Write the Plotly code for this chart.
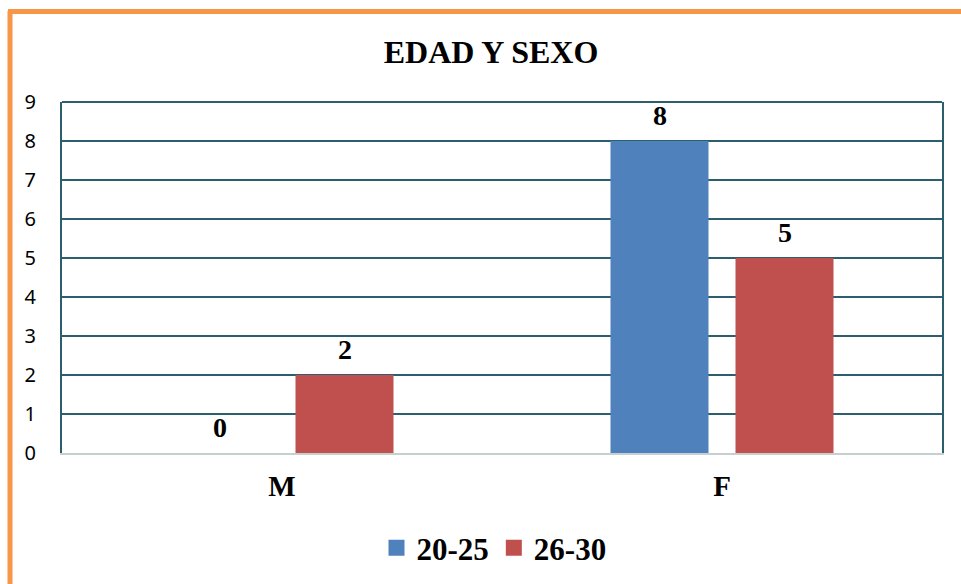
import plotly.graph_objects as go

# Data
sexes = ["M", "F"]
age_groups = ["20-25", "26-30"]
counts_20_25 = [0, 8]
counts_26_30 = [2, 5]
y_ticks = [0, 1, 2, 3, 4, 5, 6, 7, 8, 9]

BLUE = "#4F81BD"
RED = "#C0504D"
GRID = "#2B5F6E"
ORANGE = "#F79646"
SERIF = "Liberation Serif, Times New Roman, serif"

PLOT_W = 880  # plot area width in px
SLOT = 125    # px per bar slot inside a group

series = [(age_groups[0], counts_20_25, BLUE), (age_groups[1], counts_26_30, RED)]

fig = go.Figure()
for name, vals, color in series:
    fig.add_trace(go.Bar(
        x=sexes, y=vals, name=name, showlegend=False,
        marker=dict(color=color, line=dict(width=0)),
        hoverinfo="x+y+name",
    ))
    # legend entry with a larger square swatch
    fig.add_trace(go.Scatter(
        x=[None], y=[None], name=name, mode="markers",
        marker=dict(symbol="square", size=16, color=color),
        showlegend=True,
    ))

# value labels above each bar
annotations = []
for i, (name, vals, color) in enumerate(series):
    for cat, v in zip(sexes, vals):
        annotations.append(dict(
            x=cat, y=v, xref="x", yref="y", text=f"<b>{v}</b>",
            showarrow=False, yanchor="middle", yshift=26,
            xshift=(i - 0.5) * SLOT,
            font=dict(family=SERIF, size=28, color="black"),
        ))

fig.update_layout(
    width=961, height=584,
    margin=dict(l=62, r=19, t=102, b=131, autoexpand=False),
    paper_bgcolor="white", plot_bgcolor="white",
    barmode="group", bargap=(440 - 2 * SLOT) / 440, bargroupgap=27 / SLOT,
    title=dict(text="<b>EDAD Y SEXO</b>", x=491 / 961, xanchor="center",
               y=1 - 52 / 584, yanchor="middle",
               font=dict(family=SERIF, size=32, color="black")),
    showlegend=True,
    legend=dict(orientation="h", x=494 / 961, xanchor="center", xref="container",
                y=1 - 548 / 584, yanchor="middle", yref="container",
                font=dict(family=SERIF, size=31, color="black", weight="bold"),
                itemwidth=30, traceorder="normal"),
    annotations=annotations,
    xaxis=dict(showgrid=False, showline=True, linecolor="#C6D0D0", linewidth=2,
               ticks="", tickfont=dict(family=SERIF, size=29, color="black", weight="bold"),
               ticklabelstandoff=6),
    yaxis=dict(range=[0, 9], tickvals=y_ticks, showgrid=True, gridcolor=GRID, gridwidth=2,
               zeroline=False, showline=True, linecolor=GRID, linewidth=2, mirror=True,
               ticks="", ticklabelstandoff=20,
               tickfont=dict(family="Noto Sans, sans-serif", size=20, color="black")),
    shapes=[
        # top edge of the plot frame
        dict(type="line", xref="paper", yref="paper", x0=0, x1=1, y0=1, y1=1,
             line=dict(color=GRID, width=2)),
        # orange frame: left edge and top edge
        dict(type="line", xref="paper", yref="paper",
             x0=-52 / PLOT_W, x1=-52 / PLOT_W, y0=(453 - 584) / 351, y1=(453 - 11) / 351,
             line=dict(color=ORANGE, width=5)),
        dict(type="line", xref="paper", yref="paper",
             x0=-54 / PLOT_W, x1=(961 - 62) / PLOT_W, y0=(453 - 11.5) / 351, y1=(453 - 11.5) / 351,
             line=dict(color=ORANGE, width=5)),
    ],
)

fig.write_html("out.html")
